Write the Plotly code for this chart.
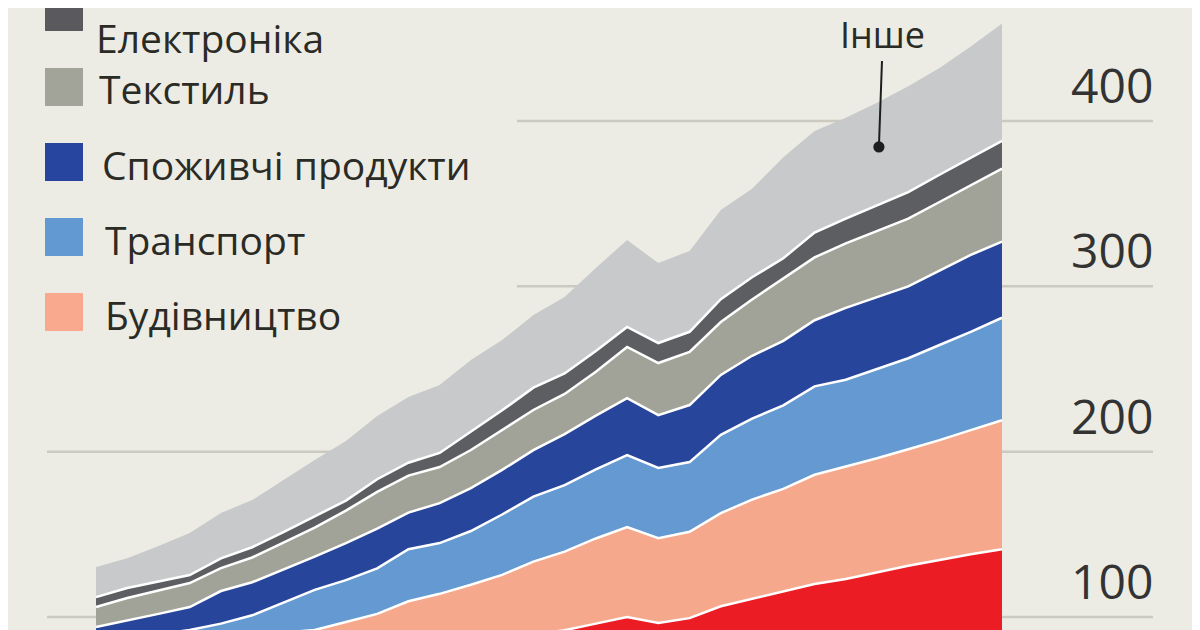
import plotly.graph_objects as go

# years on the hidden x axis
years = list(range(1990, 2020))

# stacked layers, bottom to top (values per year)
packaging = [55, 57, 59, 61, 63, 65, 67, 70, 72, 75, 78, 81, 84, 87, 89.5,
             92, 96, 100, 96.3, 99.3, 106.5, 111, 115.5, 120, 123, 127, 131, 134.5, 138, 141]
construction = [20, 21, 22, 23, 24, 24, 23.5, 22.1, 25, 26.9, 31.5, 33, 35.5, 38.5, 44,
                47.5, 51.5, 54.4, 51.4, 52.2, 56.3, 60, 62, 66, 68, 69, 70.5, 72.5, 75, 78]
transport = [9, 9, 8.5, 8.1, 9, 12, 18.2, 24.3, 25.3, 27.5, 31.5, 30.7, 32.5, 36.5, 39.3,
             40.2, 41.8, 43.5, 42.4, 42.2, 47.4, 49, 50.5, 53.5, 52.5, 54, 55, 57.5, 59.5, 62]
consumer = [9.9, 10.7, 12.4, 13.9, 19.7, 20, 20, 20.1, 22.4, 24.1, 22.1, 24.2, 26, 27, 28.1,
            30.9, 32.5, 34.5, 32, 34.5, 36.2, 38, 39, 40, 43.5, 43.5, 43.5, 45, 46.5, 46]
textile = [12.1, 13.8, 14.1, 14.5, 13.9, 15, 16.3, 17.6, 19.6, 22.2, 22.4, 21.8, 23, 24, 24.3,
           24.3, 26.5, 30.9, 31.5, 32.1, 32, 34, 37.5, 38, 39, 40, 41, 41.5, 42, 44.2]
electronics = [6, 6, 5.5, 4.9, 5.9, 6.2, 6.3, 6.5, 6.1, 7.6, 7.8, 8.5, 11, 12, 13.5,
               12.4, 12.6, 12.1, 12.1, 12.2, 13.8, 13.5, 12.5, 15, 15, 15.5, 16, 16.5, 17, 16.8]
other = [18.2, 18.1, 21.4, 25.4, 27.4, 28.5, 31.5, 34.3, 36, 38.2, 39.7, 41.1, 43.4, 42.5, 43.9,
         46.2, 50.2, 52.6, 48.4, 48.9, 54, 53.5, 61, 61.5, 61, 62, 64, 64.5, 67, 71]

series_names = ["Упаковка", "Будівництво", "Транспорт", "Споживчі продукти",
                "Текстиль", "Електроніка", "Інше"]
series_values = [packaging, construction, transport, consumer, textile, electronics, other]
series_colors = ["#EC1C24", "#F6A88C", "#6499D1", "#27459B", "#A2A398", "#5D5E62", "#C8C9CB"]

legend_names = ["Електроніка", "Текстиль", "Споживчі продукти", "Транспорт", "Будівництво"]
legend_colors = ["#5A5A5E", "#A2A399", "#27449E", "#6399D2", "#F8A98E"]

y_ticks = [100, 200, 300, 400]
other_label = "Інше"

W, H = 1200, 630
OFF = 8  # page margin the browser adds around the plot div
BG = "#EDECE4"
TEXT = "#2B2B26"


def px(x):
    # screen x pixel -> paper x
    return (x - OFF) / W


def py(y):
    # screen y pixel -> paper y
    return 1 - (y - OFF) / H


fig = go.Figure()
for name, vals, col in zip(series_names, series_values, series_colors):
    top = name == "Інше"
    fig.add_trace(go.Scatter(
        x=years, y=vals, name=name, mode="lines", stackgroup="one",
        fillcolor=col,
        line=dict(color=col if top else "white", width=0 if top else 2.5),
        hoverinfo="skip"))

shapes = []
annotations = []

# gridlines and right-side tick labels
for t in y_ticks:
    x0 = px(47) if t < 300 else px(517)
    shapes.append(dict(type="line", xref="paper", yref="y", x0=x0, x1=px(1153),
                       y0=t, y1=t, layer="below",
                       line=dict(color="#CBC9C0", width=2.5)))
    annotations.append(dict(xref="paper", yref="y", x=px(1155), y=t,
                            xanchor="right", yanchor="bottom", yshift=2,
                            text=str(t), showarrow=False,
                            font=dict(family="Open Sans", size=48, color="#333333")))

# legend drawn by hand (top left)
for i, (name, col) in enumerate(zip(legend_names, legend_colors)):
    top_px = -7 + 75 * i
    shapes.append(dict(type="rect", xref="paper", yref="paper",
                       x0=px(45), x1=px(83), y0=py(top_px + 38), y1=py(top_px),
                       fillcolor=col, line=dict(width=0), layer="above"))
    if i == 0:
        # keep the first label's box inside the top edge
        pos = dict(y=py(9), yanchor="top")
    else:
        pos = dict(y=py(top_px + 21), yanchor="middle")
    annotations.append(dict(xref="paper", yref="paper", x=px(94 + min(i, 3) * 3),
                            xanchor="left", text=name, showarrow=False,
                            font=dict(family="Open Sans", size=39, color=TEXT), **pos))

# "Інше" call-out
annotations.append(dict(x=2015.06, y=384.3, xref="x", yref="y", text=other_label,
                        showarrow=True, ax=4, ay=-112, arrowhead=6, arrowsize=1.4,
                        arrowwidth=2, arrowcolor="#1E1E1E", standoff=0,
                        font=dict(family="Open Sans", size=36, color=TEXT)))

fig.update_layout(
    width=W, height=H,
    margin=dict(l=0, r=0, t=0, b=0),
    paper_bgcolor=BG, plot_bgcolor=BG,
    showlegend=False,
    xaxis=dict(range=[1987.183, 2025.594], visible=False),
    yaxis=dict(range=[87.29, 468.35], visible=False),
    shapes=shapes, annotations=annotations)

fig.write_html("out.html")
